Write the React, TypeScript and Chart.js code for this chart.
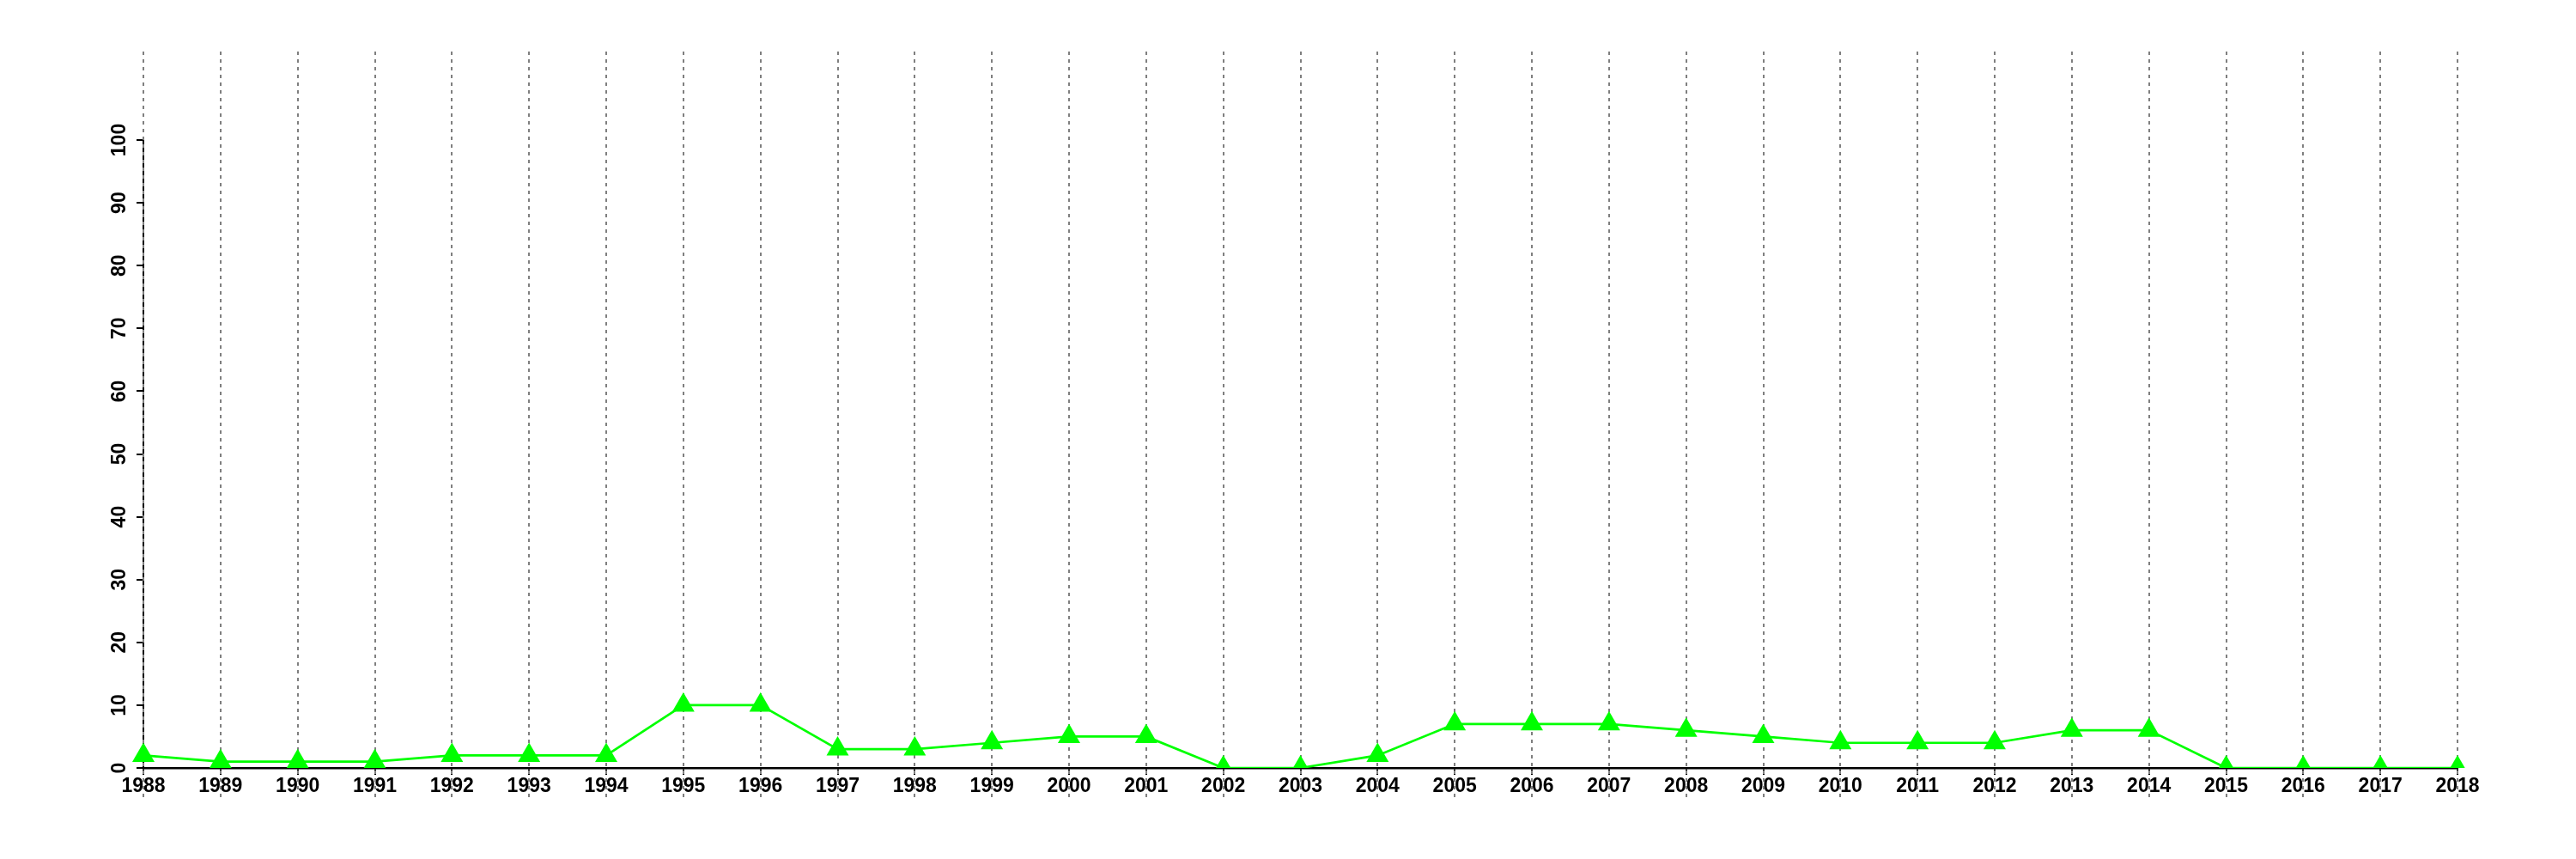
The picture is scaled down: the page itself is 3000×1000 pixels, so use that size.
import React, { useEffect, useRef } from "react";
import { Chart, registerables } from "chart.js";

Chart.register(...registerables);

const years: string[] = [
  "1988", "1989", "1990", "1991", "1992", "1993", "1994", "1995", "1996", "1997",
  "1998", "1999", "2000", "2001", "2002", "2003", "2004", "2005", "2006", "2007",
  "2008", "2009", "2010", "2011", "2012", "2013", "2014", "2015", "2016", "2017", "2018",
];

const values: number[] = [
  2, 1, 1, 1, 2, 2, 2, 10, 10, 3,
  3, 4, 5, 5, 0, 0, 2, 7, 7, 7,
  6, 5, 4, 4, 4, 6, 6, 0, 0, 0, 0,
];

const yMin = 0;
const yMax = 100;
const yStep = 10;

const FONT = { family: "'Liberation Sans', Arial, Helvetica, sans-serif", size: 23, weight: "bold" as const };

const dottedGrid = {
  id: "dottedGrid",
  beforeDatasetsDraw(chart: any) {
    const { ctx, chartArea, scales } = chart;
    const x = scales.x;
    ctx.save();
    ctx.strokeStyle = "#7f7f7f";
    ctx.lineWidth = 2;
    ctx.setLineDash([4, 5]);
    const top = chartArea.top - 103;
    const bottom = chartArea.bottom + 34;
    for (let i = 0; i < years.length; i++) {
      const px = Math.round(x.getPixelForValue(i));
      ctx.beginPath();
      ctx.moveTo(px, top);
      ctx.lineTo(px, bottom);
      ctx.stroke();
    }
    ctx.restore();
  },
};

export default function App() {
  const ref = useRef<HTMLCanvasElement | null>(null);
  useEffect(() => {
    if (!ref.current) return;
    const chart = new Chart(ref.current, {
      type: "line",
      data: {
        labels: years,
        datasets: [
          {
            data: values,
            borderColor: "#00ff00",
            backgroundColor: "#00ff00",
            borderWidth: 2.7,
            pointStyle: "triangle",
            pointRadius: 15,
            pointBorderWidth: 0,
            pointBackgroundColor: "#00ff00",
            pointBorderColor: "#00ff00",
            tension: 0,
          },
        ],
      },
      plugins: [dottedGrid],
      options: {
        animation: false,
        responsive: false,
        devicePixelRatio: 1,
        layout: { padding: { top: 163, right: 138, bottom: 0, left: 0 } },
        plugins: { legend: { display: false }, tooltip: { enabled: false } },
        scales: {
          x: {
            type: "category",
            offset: false,
            z: 1,
            afterFit: (s: any) => { s.height = 106; },
            grid: { drawOnChartArea: false, drawTicks: true, tickLength: 8, color: "#000", lineWidth: 2 },
            border: { display: true, color: "#000", width: 2.5 },
            ticks: { color: "#000", font: FONT, padding: 0, maxRotation: 0, minRotation: 0, autoSkip: false },
          },
          y: {
            type: "linear",
            min: yMin,
            max: yMax,
            z: 1,
            afterFit: (s: any) => { s.width = 167; },
            grid: { drawOnChartArea: false, drawTicks: true, tickLength: 8, color: "#000", lineWidth: 2 },
            border: { display: true, color: "#000", width: 2 },
            ticks: {
              stepSize: yStep,
              color: "#000",
              font: FONT,
              minRotation: 90,
              maxRotation: 90,
              crossAlign: "center",
              padding: 0,
            },
          },
        },
      },
    });
    return () => chart.destroy();
  }, []);
  return (
    <div style={{ position: "absolute", left: 0, top: 0, width: 3000, height: 1000, background: "#fff" }}>
      <canvas ref={ref} width={3000} height={1000} style={{ width: 3000, height: 1000, display: "block" }} />
    </div>
  );
}
